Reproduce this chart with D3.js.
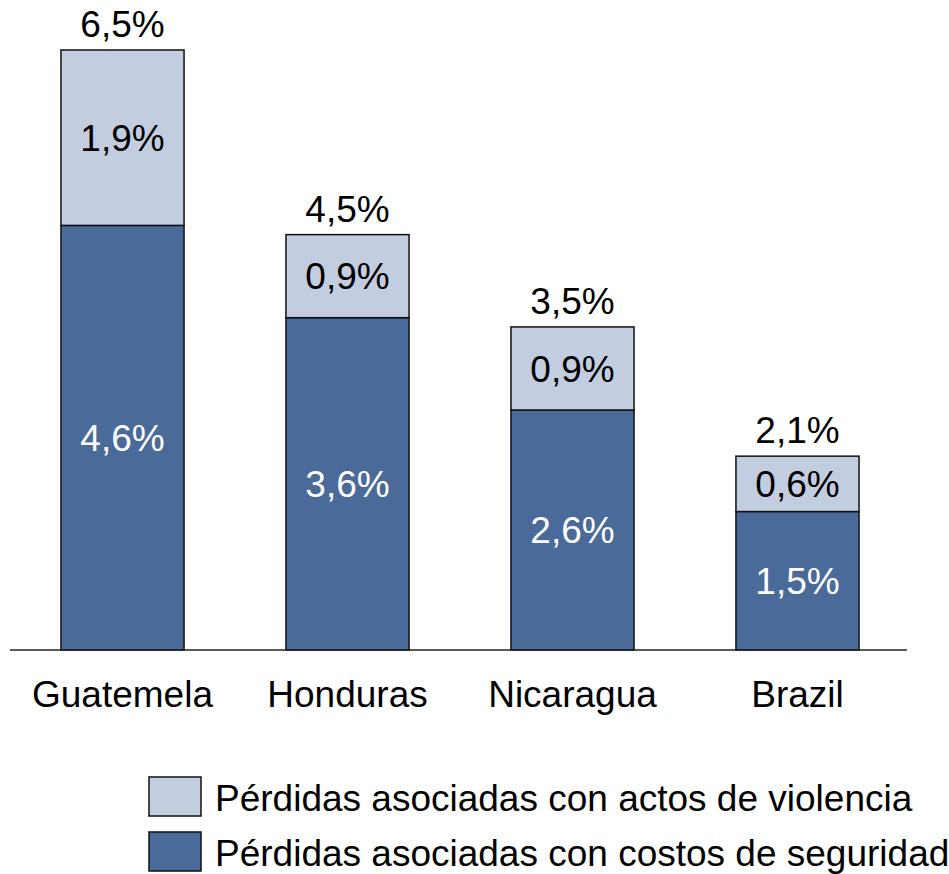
<!DOCTYPE html>
<html>
<head>
<meta charset="utf-8">
<script src="https://cdn.jsdelivr.net/npm/d3@7"></script>
<style>
  body { margin: 0; background: #fff; }
  svg text { font-family: "Liberation Sans", Arial, sans-serif; }
</style>
</head>
<body>
<div id="viz"></div>
<script>
const width = 949;
const height = 874;
const colorViolence = '#C3CDE0';
const colorSecurity = '#4A6A9A';
const fontSize = 37;

// data
const countries = ['Guatemela', 'Honduras', 'Nicaragua', 'Brazil'];
const security = [4.6, 3.6, 2.6, 1.5];
const violence = [1.9, 0.9, 0.9, 0.6];
const totals = [6.5, 4.5, 3.5, 2.1];
const seriesNames = ['Pérdidas asociadas con actos de violencia', 'Pérdidas asociadas con costos de seguridad'];

const fmt = v => d3.format('.1f')(v).replace('.', ',') + '%';

const rows = countries.map((c, i) => ({country: c, security: security[i], violence: violence[i], total: totals[i]}));

const xScale = d3.scaleBand()
  .domain(countries)
  .range([10, 910])
  .paddingInner(0.453)
  .paddingOuter(0.2265);

const yScale = d3.scaleLinear()
  .domain([0, 6.5])
  .range([650, 50]);

const svg = d3.select('#viz')
  .append('svg')
  .attr('width', width)
  .attr('height', height);

const stack = d3.stack().keys(['security', 'violence'])(rows);
const colors = {security: colorSecurity, violence: colorViolence};

svg.append('g')
  .selectAll('g')
  .data(stack)
  .join('g')
    .attr('fill', d => colors[d.key])
  .selectAll('rect')
  .data(d => d)
  .join('rect')
    .attr('x', d => xScale(d.data.country))
    .attr('y', d => yScale(d[1]))
    .attr('width', xScale.bandwidth())
    .attr('height', d => yScale(d[0]) - yScale(d[1]))
    .attr('stroke', '#111')
    .attr('stroke-width', 1.5);

// segment labels
stack.forEach(layer => {
  svg.append('g')
    .selectAll('text')
    .data(layer)
    .join('text')
      .attr('x', d => xScale(d.data.country) + xScale.bandwidth() / 2)
      .attr('y', d => (yScale(d[0]) + yScale(d[1])) / 2)
      .attr('dy', '0.36em')
      .attr('text-anchor', 'middle')
      .attr('font-size', fontSize)
      .attr('fill', layer.key === 'security' ? '#fff' : '#000')
      .text(d => fmt(d.data[layer.key]));
});

// totals above
svg.append('g')
  .selectAll('text')
  .data(rows)
  .join('text')
    .attr('x', d => xScale(d.country) + xScale.bandwidth() / 2)
    .attr('y', d => yScale(d.total) - 13)
    .attr('text-anchor', 'middle')
    .attr('font-size', fontSize)
    .text(d => fmt(d.total));

// baseline
svg.append('line')
  .attr('x1', 10)
  .attr('x2', 907)
  .attr('y1', yScale(0))
  .attr('y2', yScale(0))
  .attr('stroke', '#222')
  .attr('stroke-width', 1.5);

// category labels
svg.append('g')
  .selectAll('text')
  .data(countries)
  .join('text')
    .attr('x', d => xScale(d) + xScale.bandwidth() / 2)
    .attr('y', 707)
    .attr('text-anchor', 'middle')
    .attr('font-size', fontSize)
    .text(d => d);

// legend
const legend = svg.append('g')
  .selectAll('g')
  .data(seriesNames)
  .join('g')
    .attr('transform', (d, i) => `translate(149, ${777 + i * 55})`);

legend.append('rect')
  .attr('width', 52)
  .attr('height', 39)
  .attr('fill', (d, i) => i === 0 ? colorViolence : colorSecurity)
  .attr('stroke', '#111')
  .attr('stroke-width', 1.5);

legend.append('text')
  .attr('x', 66)
  .attr('y', 34)
  .attr('font-size', fontSize)
  .text(d => d);
</script>
</body>
</html>
